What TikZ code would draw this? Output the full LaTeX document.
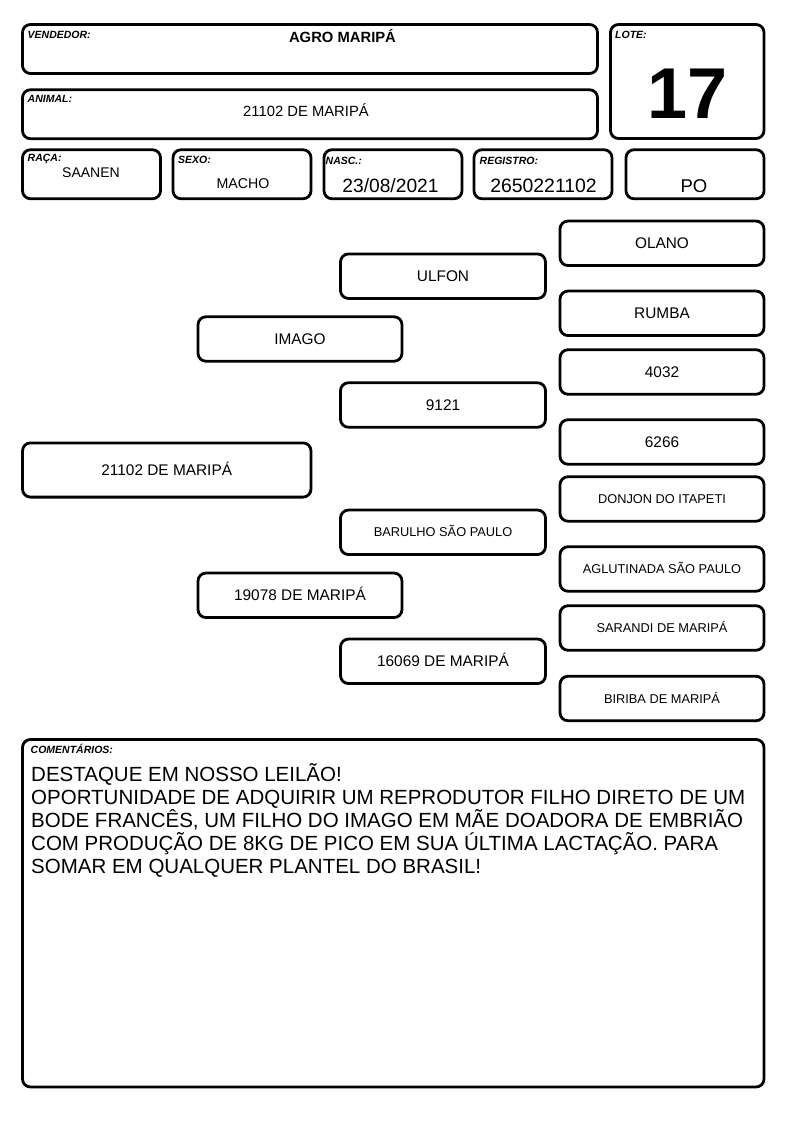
\documentclass[tikz,border=0pt]{standalone}
\usepackage{fontspec}
\setmainfont{Liberation Sans}
\begin{document}
\begin{tikzpicture}[x=1pt,y=-1pt,
  frame/.style={draw, line width=2.8pt, rounded corners=8pt, inner sep=0pt, outer sep=0pt},
  ped/.style={frame, minimum width=204pt, minimum height=44.5pt, font=\fontsize{15.4}{18}\selectfont, text height=11pt, text depth=0pt},
  pedsmall/.style={ped, font=\fontsize{12.8}{15}\selectfont, text height=9.2pt},
  lbl/.style={anchor=base west, inner sep=0pt, font=\bfseries\itshape\fontsize{10.5}{12}\selectfont},
  val/.style={anchor=base, inner sep=0pt},
  cmt/.style={anchor=base west, inner sep=0pt, font=\fontsize{20.5}{23}\selectfont}]
\useasboundingbox (0,0) rectangle (794,1123);
% header frames
\node[frame, minimum width=575pt, minimum height=49pt] (vend) at (310,49) {};
\node[frame, minimum width=575pt, minimum height=49pt] (anim) at (310,114.25) {};
\node[frame, minimum width=153.5pt, minimum height=114pt] (lote) at (687.25,81.5) {};
\node[frame, minimum width=138pt, minimum height=49pt] (raca) at (91.5,174.25) {};
\node[frame, minimum width=138pt, minimum height=49pt] (sexo) at (242,174.25) {};
\node[frame, minimum width=138pt, minimum height=49pt] (nasc) at (393,174.25) {};
\node[frame, minimum width=138pt, minimum height=49pt] (reg) at (543,174.25) {};
\node[frame, minimum width=138pt, minimum height=49pt] (po) at (695,174.25) {};
% header texts
\node[lbl] (vendl) at (27.5,39) {VENDEDOR:};
\node[val, font=\bfseries\fontsize{14.8}{17}\selectfont] (vendv) at (342.5,42.3) {AGRO MARIPÁ};
\node[lbl] (animl) at (27.5,102.3) {ANIMAL:};
\node[val, font=\fontsize{14.8}{17}\selectfont] (animv) at (306,117) {21102 DE MARIPÁ};
\node[lbl] (lotel) at (615,38.5) {LOTE:};
\node[val, font=\bfseries\fontsize{72}{80}\selectfont] (lotev) at (687.5,119) {17};
\node[lbl] (racal) at (27.5,161.5) {RAÇA:};
\node[val, font=\fontsize{14}{16}\selectfont] (racav) at (91,178) {SAANEN};
\node[lbl] (sexol) at (178,164) {SEXO:};
\node[val, font=\fontsize{14.2}{16}\selectfont] (sexov) at (243,189) {MACHO};
\node[lbl] (nascl) at (325.5,165) {NASC.:};
\node[val, font=\fontsize{19.2}{22}\selectfont] (nascv) at (390.5,193) {23/08/2021};
\node[lbl] (regl) at (479.5,165) {REGISTRO:};
\node[val, font=\fontsize{19.4}{22}\selectfont] (regv) at (543.5,193) {2650221102};
\node[val, font=\fontsize{18.5}{22}\selectfont] (pov) at (694,192.3) {PO};
% pedigree
\node[ped] (olano) at (662,243.3) {OLANO};
\node[ped, minimum width=205pt] (ulfon) at (443,276.2) {ULFON};
\node[ped] (rumba) at (662,313.3) {RUMBA};
\node[ped] (imago) at (300,339) {IMAGO};
\node[ped] (p4032) at (662,372) {4032};
\node[ped, minimum width=205pt] (p9121) at (443,405) {9121};
\node[ped] (p6266) at (662,442) {6266};
\node[ped, minimum width=288.5pt, minimum height=54.2pt] (self) at (166.75,470) {21102 DE MARIPÁ};
\node[pedsmall] (donjon) at (662,499) {DONJON DO ITAPETI};
\node[pedsmall, minimum width=205pt] (barulho) at (443,532.3) {BARULHO SÃO PAULO};
\node[pedsmall] (aglut) at (662,569) {AGLUTINADA SÃO PAULO};
\node[ped] (p19078) at (300,595.3) {19078 DE MARIPÁ};
\node[pedsmall] (sarandi) at (662,628) {SARANDI DE MARIPÁ};
\node[ped, minimum width=205pt] (p16069) at (443,661.3) {16069 DE MARIPÁ};
\node[pedsmall] (biriba) at (662,698.5) {BIRIBA DE MARIPÁ};
% comments
\node[frame, minimum width=741.5pt, minimum height=347.5pt] (com) at (393.25,913.25) {};
\node[lbl] (coml) at (30.5,753.5) {COMENTÁRIOS:};
\node[cmt] (c1) at (31,781) {DESTAQUE EM NOSSO LEILÃO!};
\node[cmt] (c2) at (31,804) {OPORTUNIDADE DE ADQUIRIR UM REPRODUTOR FILHO DIRETO DE UM};
\node[cmt] (c3) at (31,827) {BODE FRANCÊS, UM FILHO DO IMAGO EM MÃE DOADORA DE EMBRIÃO};
\node[cmt] (c4) at (31,850) {COM PRODUÇÃO DE 8KG DE PICO EM SUA ÚLTIMA LACTAÇÃO. PARA};
\node[cmt] (c5) at (31,873) {SOMAR EM QUALQUER PLANTEL DO BRASIL!};
\end{tikzpicture}
\end{document}
